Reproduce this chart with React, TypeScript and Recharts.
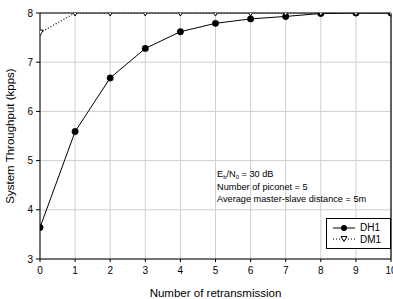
import { LineChart, Line, XAxis, YAxis, CartesianGrid, ReferenceLine } from 'recharts';

const retrans = [0, 1, 2, 3, 4, 5, 6, 7, 8, 9, 10];
const dh1 = [3.64, 5.59, 6.68, 7.28, 7.62, 7.79, 7.88, 7.93, 7.99, 8.0, 8.0];
const dm1 = [7.6, 8.0, 8.0, 8.0, 8.0, 8.0, 8.0, 8.0, 8.0, 8.0, 8.0];
const xTicks = [0, 1, 2, 3, 4, 5, 6, 7, 8, 9, 10];
const yTicks = [3, 4, 5, 6, 7, 8];

const data = retrans.map((x, i) => ({ x, dh1: dh1[i], dm1: dm1[i] }));

const FONT = '"Liberation Sans", Arial, sans-serif';

const Circle = (p: any) => (
  <circle cx={p.cx} cy={p.cy} r={3.2} fill="#000" stroke="#000" strokeWidth={0.5} />
);
const Tri = (p: any) => (
  <path
    d={`M${p.cx - 3.2},${p.cy - 2.6} L${p.cx + 3.2},${p.cy - 2.6} L${p.cx},${p.cy + 3} Z`}
    fill="#fff"
    stroke="#000"
    strokeWidth={1}
  />
);

const LegendBox = () => (
  <div
    style={{
      position: 'absolute',
      left: 326,
      top: 218,
      border: '1px solid #000',
      background: '#fff',
      width: 65,
      height: 31,
      boxSizing: 'border-box',
      fontFamily: FONT,
      fontSize: 10,
      color: '#000',
      padding: '3px 0 0 6px',
      lineHeight: '11.5px',
    }}
  >
    <div style={{ display: 'flex', alignItems: 'center' }}>
      <svg width={22} height={8}>
        <line x1={0} y1={4} x2={22} y2={4} stroke="#000" strokeWidth={1} />
        <circle cx={11} cy={4} r={3} fill="#000" />
      </svg>
      <span style={{ marginLeft: 5 }}>DH1</span>
    </div>
    <div style={{ display: 'flex', alignItems: 'center' }}>
      <svg width={22} height={8}>
        <line x1={0} y1={4} x2={22} y2={4} stroke="#000" strokeWidth={1} strokeDasharray="1 2" />
        <path d="M8,1.5 L14,1.5 L11,6.5 Z" fill="#fff" stroke="#000" strokeWidth={1} />
      </svg>
      <span style={{ marginLeft: 5 }}>DM1</span>
    </div>
  </div>
);

export default function App() {
  return (
    <div style={{ position: 'absolute', left: 0, top: 0, width: 393, height: 299, background: '#fff' }}>
      <LineChart
        width={393}
        height={299}
        data={data}
        margin={{ top: 13, right: 2, bottom: 0, left: 0 }}
        style={{ fontFamily: FONT }}
      >
        <CartesianGrid stroke="#cfcfcf" strokeWidth={1} />
        <XAxis
          dataKey="x"
          type="number"
          domain={[0, 10]}
          ticks={xTicks}
          interval={0}
          allowDataOverflow
          tick={{ fontSize: 10, fill: '#000', fontFamily: FONT }}
          tickSize={3}
          tickMargin={5}
          stroke="#000"
          label={{ value: 'Number of retransmission', position: 'insideBottom', offset: 2, fontSize: 11.5, fill: '#000', fontFamily: FONT }}
          height={40}
        />
        <YAxis
          type="number"
          domain={[3, 8]}
          ticks={yTicks}
          interval={0}
          allowDataOverflow
          tick={{ fontSize: 10, fill: '#000', fontFamily: FONT }}
          tickSize={4}
          tickMargin={3}
          stroke="#000"
          width={40}
          label={{ value: 'System Throughput (kpps)', angle: -90, position: 'insideLeft', offset: 10, fontSize: 11.5, fill: '#000', fontFamily: FONT, style: { textAnchor: 'middle' } }}
        />
        <ReferenceLine y={8} stroke="#000" strokeWidth={1} />
        <ReferenceLine x={10} stroke="#333" strokeWidth={1.5} />
        <Line
          dataKey="dh1"
          name="DH1"
          stroke="#000"
          strokeWidth={1}
          dot={<Circle />}
          activeDot={false}
          isAnimationActive={false}
        />
        <Line
          dataKey="dm1"
          name="DM1"
          stroke="#000"
          strokeWidth={1.2}
          strokeDasharray="1 2"
          dot={<Tri />}
          activeDot={false}
          isAnimationActive={false}
        />
      </LineChart>
      <LegendBox />
      <div
        style={{
          position: 'absolute',
          left: 217,
          top: 168,
          fontFamily: FONT,
          fontSize: 9.2,
          color: '#000',
          lineHeight: '12.5px',
          whiteSpace: 'nowrap',
        }}
      >
        <div>
          E<sub style={{ fontSize: 6, verticalAlign: '-2px', lineHeight: 0 }}>b</sub>/N
          <sub style={{ fontSize: 6, verticalAlign: '-2px', lineHeight: 0 }}>0</sub> = 30 dB
        </div>
        <div>Number of piconet = 5</div>
        <div>Average master-slave distance = 5m</div>
      </div>
    </div>
  );
}
